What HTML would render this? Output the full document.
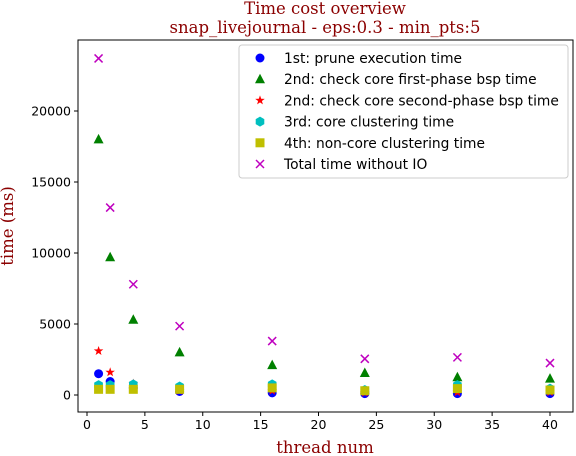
<!DOCTYPE html>
<html><head><meta charset="utf-8"><style>body{margin:0;background:#fff}svg{display:block}</style></head>
<body>
<svg id="chart" width="576" height="456" xmlns="http://www.w3.org/2000/svg" font-family="DejaVu Sans, Liberation Sans, sans-serif"></svg>
<script>
const threads=[1,2,4,8,16,24,32,40];
const prune=[1500,950,500,250,150,100,100,100];
const coreFirst=[18000,9700,5300,3000,2100,1550,1250,1150];
const coreSecond=[3100,1600,800,300,300,150,200,200];
const coreCluster=[700,700,750,600,750,350,700,450];
const nonCore=[400,400,400,400,500,300,450,350];
const total=[23700,13200,7800,4850,3800,2550,2650,2250];
const xTicks=[0,5,10,15,20,25,30,35,40];
const yTicks=[0,5000,10000,15000,20000];
const NS="http://www.w3.org/2000/svg";
const svg=document.getElementById('chart');
const L=78,T=40,R=573,B=412;
const xs=v=>87+v*11.575, ys=v=>395-v*71/5000;
function el(tag,attrs,parent){const e=document.createElementNS(NS,tag);for(const k in attrs)e.setAttribute(k,attrs[k]);(parent||svg).appendChild(e);return e;}
function txt(s,attrs){const t=el('text',attrs);t.textContent=s;return t;}
const frame=el('rect',{x:L,y:T,width:R-L,height:B-T,fill:'#fff',stroke:'#000','stroke-width':1});

xTicks.forEach(v=>{const x=xs(v);el('line',{x1:x,x2:x,y1:B,y2:B+4,stroke:'#000'});
const t=txt(String(v),{x:x,y:B+17,'font-size':12.5,'text-anchor':'middle'});
});
yTicks.forEach(v=>{const y=ys(v);el('line',{x1:L-4,x2:L,y1:y,y2:y,stroke:'#000'});
const t=txt(String(v),{x:L-7,y:y+4.5,'font-size':12.5,'text-anchor':'end'});
});
const serif={fill:'#8b0000','font-family':'DejaVu Serif, Liberation Serif, serif','font-size':16.5,'text-anchor':'middle'};
let t1=txt('Time cost overview',Object.assign({x:325,y:14},serif));
let t2=txt('snap_livejournal - eps:0.3 - min_pts:5',Object.assign({x:325,y:33},serif));
let xt=txt('thread num',Object.assign({x:325,y:453},serif));
let yt=txt('time (ms)',Object.assign({x:0,y:0,transform:'translate(13,226) rotate(-90)'},serif));
function marker(type,x,y,g){
 if(type==='o')el('circle',{cx:x,cy:y,r:4.5,fill:'#0000ff'},g);
 else if(type==='^')el('polygon',{points:`${x},${y-5.5} ${x-5},${y+4} ${x+5},${y+4}`,fill:'#008000'},g);
 else if(type==='*'){let p=[];for(let i=0;i<10;i++){const r=i%2?2:5,a=-Math.PI/2+i*Math.PI/5;p.push((x+r*Math.cos(a)).toFixed(1)+','+(y+r*Math.sin(a)).toFixed(1));}el('polygon',{points:p.join(' '),fill:'#ff0000'},g);}
 else if(type==='h'){let p=[];for(let i=0;i<6;i++){const a=-Math.PI/2+i*Math.PI/3;p.push((x+5*Math.cos(a)).toFixed(1)+','+(y+5*Math.sin(a)).toFixed(1));}el('polygon',{points:p.join(' '),fill:'#00bfbf'},g);}
 else if(type==='s')el('rect',{x:x-4.5,y:y-4.5,width:9,height:9,fill:'#bfbf00'},g);
 else if(type==='x'){el('line',{x1:x-4,y1:y-4,x2:x+4,y2:y+4,stroke:'#bf00bf','stroke-width':1.5},g);el('line',{x1:x-4,y1:y+4,x2:x+4,y2:y-4,stroke:'#bf00bf','stroke-width':1.5},g);}
}
const series=[['o',prune,'1st: prune execution time','prune'],['^',coreFirst,'2nd: check core first-phase bsp time','core-first'],['*',coreSecond,'2nd: check core second-phase bsp time','core-second'],['h',coreCluster,'3rd: core clustering time','core-cluster'],['s',nonCore,'4th: non-core clustering time','non-core'],['x',total,'Total time without IO','total']];
series.forEach(([m,vals,label,nm])=>{const g=el('g',{});
 vals.forEach((v,i)=>marker(m,xs(threads[i]),ys(v),g));});
const lg=el('g',{});
el('rect',{x:239,y:45,width:329,height:133,rx:3,fill:'#fff',stroke:'#ccc'},lg);
series.forEach(([m,,label],i)=>{const y=58+i*21.2;marker(m,260,y,lg);
 const t=el('text',{x:284,y:y+5,'font-size':13.8},lg);t.textContent=label;
 });
</script>
</body></html>
